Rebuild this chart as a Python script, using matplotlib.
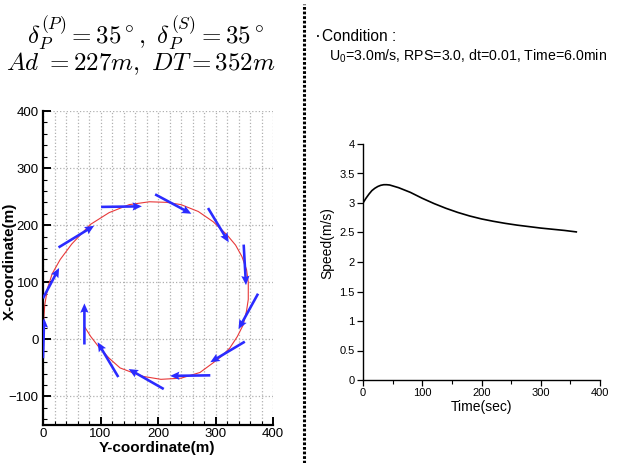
import matplotlib
matplotlib.use("Agg")
import numpy as np
import matplotlib.pyplot as plt
import matplotlib.font_manager as fm
from matplotlib.lines import Line2D
from matplotlib.ticker import MultipleLocator, FuncFormatter

# Turning trajectory (Y, X)
traj_y = [0, 1, 3, 8, 16, 30, 50, 82, 115, 150, 185, 215, 240, 270, 296, 320,
          335, 346, 354, 357, 357, 354, 348, 338, 325, 310, 296, 273, 240, 205,
          175, 155, 134, 115, 96, 83, 73]
traj_x = [0, 30, 60, 90, 115, 140, 167, 201, 222, 236, 241, 240, 236, 224, 206, 183,
          165, 145, 122, 100, 70, 50, 25, 5, -15, -30, -41, -58, -68, -70,
          -65, -58, -50, -33, -12, 5, 21]

# Heading arrows: tail (Y, X) and head (Y, X)
arr_y0 = [0, 0, 27, 101, 195, 287, 349, 374, 351, 291, 210, 131, 72]
arr_x0 = [-33, 72, 161, 232, 254, 230, 166, 80, -4, -63, -87, -66, -9]
arr_y1 = [2, 28, 89, 172, 258, 323, 353, 340, 291, 221, 149, 95, 72]
arr_x1 = [37, 125, 199, 233, 220, 170, 95, 18, -40, -64, -52, -5, 63]

# Speed history
time_s = [0, 5, 10, 15, 20, 25, 30, 35, 40, 45, 50, 60, 70, 80, 90, 100, 120,
          140, 160, 180, 200, 220, 240, 260, 280, 300, 320, 340, 360]
speed = [3.00, 3.08, 3.15, 3.21, 3.25, 3.28, 3.30, 3.31, 3.31, 3.305, 3.29, 3.26,
         3.22, 3.18, 3.13, 3.08, 2.99, 2.91, 2.84, 2.78, 2.73, 2.69, 2.655, 2.625,
         2.60, 2.575, 2.555, 2.535, 2.51]

names = {f.name for f in fm.fontManager.ttflist}
narrow = 'Liberation Sans Narrow' if 'Liberation Sans Narrow' in names else 'Liberation Sans'
nscale = 1.0 if narrow == 'Liberation Sans Narrow' else 0.8

plt.rcParams['font.family'] = ['Liberation Sans', 'DejaVu Sans']
plt.rcParams['mathtext.fontset'] = 'custom'
plt.rcParams['mathtext.rm'] = narrow
plt.rcParams['mathtext.it'] = narrow
plt.rcParams['mathtext.bf'] = narrow

W, H = 617, 463
fig = plt.figure(figsize=(W / 100, H / 100), dpi=100)


def fx(px):
    return px / W


def fy(py):
    return 1 - py / H


# ---- left: trajectory ----
ax1 = fig.add_axes([fx(43), fy(425), fx(273) - fx(43), fy(111) - fy(425)])
ax1.plot(traj_y, traj_x, color='#e8393a', lw=0.8, zorder=2)
u = np.array(arr_y1) - np.array(arr_y0)
v = np.array(arr_x1) - np.array(arr_x0)
ax1.quiver(arr_y0, arr_x0, u, v, angles='xy', scale_units='xy', scale=1,
           color='#2b2bff', units='dots', width=2.6, headwidth=3.2,
           headlength=3.6, headaxislength=3.2, zorder=3)
ax1.set_xlim(0, 400)
ax1.set_ylim(-150, 400)
ax1.xaxis.set_major_locator(MultipleLocator(100))
ax1.xaxis.set_minor_locator(MultipleLocator(20))
ax1.yaxis.set_major_locator(MultipleLocator(100))
ax1.yaxis.set_minor_locator(MultipleLocator(20))
ax1.grid(which='major', axis='both', color='#b0b0b0', ls=':', lw=0.9)
ax1.grid(which='minor', axis='x', color='#b0b0b0', ls=':', lw=0.9)
ax1.set_axisbelow(True)
for s in ['top', 'right']:
    ax1.spines[s].set_visible(False)
for s in ['left', 'bottom']:
    ax1.spines[s].set_linewidth(1.6)
ax1.tick_params(which='major', direction='in', length=6, width=1.4,
                labelsize=9.5, pad=3)
ax1.tick_params(axis='x', which='major', pad=2)
ax1.tick_params(which='minor', direction='in', length=3, width=0.8)
ax1.set_xlabel('Y-coordinate(m)', fontsize=11, fontweight='bold', va='top')
ax1.set_ylabel('X-coordinate(m)', fontsize=11, fontweight='bold')
ax1.xaxis.set_label_coords(0.496, -0.052)
ax1.yaxis.set_label_coords(-0.115, 0.52)

fig.text(fx(146), fy(44), r'$\delta_P^{(P)} = 35^\circ,\ \delta_P^{(S)} = 35^\circ$',
         ha='center', va='baseline', fontsize=18, math_fontfamily='cm')
fig.text(fx(141), fy(70), r'$Ad\ = 227m,\ DT = 352m$',
         ha='center', va='baseline', fontsize=18, math_fontfamily='cm')

# separator
fig.add_artist(Line2D([fx(304), fx(304)], [0, fy(4)], color='black', lw=2.2,
                      ls=(0, (0.9, 0.6))))

# ---- right: speed ----
fig.text(fx(315), fy(41), '·', fontsize=13, family=narrow, va='baseline')
fig.text(fx(322), fy(41), 'Condition :', fontsize=14 * nscale, family=narrow,
         va='baseline')
fig.text(fx(329), fy(61), r'U$_0$=3.0m/s, RPS=3.0, dt=0.01, Time=6.0min',
         fontsize=10.2 if nscale < 1 else 13, family=narrow, va='baseline')

ax2 = fig.add_axes([fx(363), fy(380), fx(600) - fx(363), fy(144) - fy(380)])
ax2.plot(time_s, speed, color='black', lw=1.2)
ax2.set_xlim(0, 400)
ax2.set_ylim(0, 4)
ax2.xaxis.set_major_locator(MultipleLocator(100))
ax2.xaxis.set_minor_locator(MultipleLocator(50))
ax2.yaxis.set_major_locator(MultipleLocator(0.5))
ax2.yaxis.set_major_formatter(FuncFormatter(lambda val, p: f'{val:g}'))
for s in ['top', 'right']:
    ax2.spines[s].set_visible(False)
for s in ['left', 'bottom']:
    ax2.spines[s].set_linewidth(1.0)
ax2.tick_params(which='major', direction='out', length=4, width=0.9, pad=2)
ax2.tick_params(which='minor', direction='out', length=3, width=0.8)
for lab in ax2.get_xticklabels() + ax2.get_yticklabels():
    lab.set_family(narrow)
    lab.set_fontsize(10 * nscale)
ax2.set_xlabel('Time(sec)', family=narrow, fontsize=12.5 * nscale, labelpad=1)
ax2.set_ylabel('Speed(m/s)', family=narrow, fontsize=12.5 * nscale)
ax2.yaxis.set_label_coords(-0.12, 0.58)

fig.savefig('out.png', dpi=100)
